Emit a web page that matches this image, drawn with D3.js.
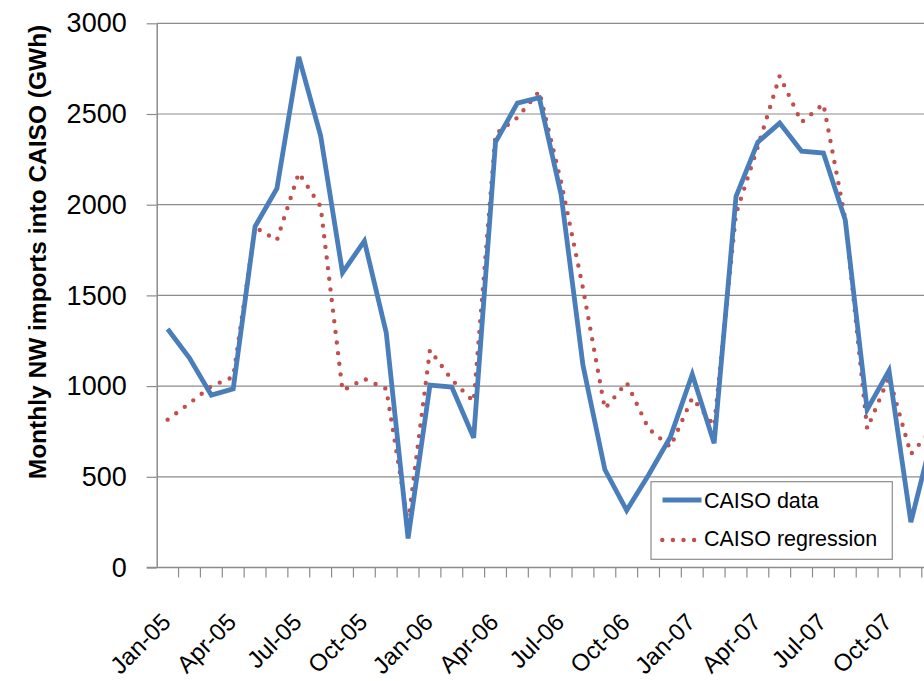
<!DOCTYPE html>
<html>
<head>
<meta charset="utf-8">
<script src="https://cdn.jsdelivr.net/npm/d3@7"></script>
<style>
  body { margin: 0; background: #fff; }
  text { font-family: "Liberation Sans", Arial, sans-serif; fill: #000; }
</style>
</head>
<body>
<svg id="chart"></svg>
<script>
const months = [
  "Jan-05","Feb-05","Mar-05","Apr-05","May-05","Jun-05","Jul-05","Aug-05","Sep-05","Oct-05","Nov-05","Dec-05",
  "Jan-06","Feb-06","Mar-06","Apr-06","May-06","Jun-06","Jul-06","Aug-06","Sep-06","Oct-06","Nov-06","Dec-06",
  "Jan-07","Feb-07","Mar-07","Apr-07","May-07","Jun-07","Jul-07","Aug-07","Sep-07","Oct-07","Nov-07","Dec-07"
];
const caisoData = [
  1315, 1155, 950, 985, 1880, 2090, 2815, 2380, 1625, 1800, 1295, 160,
  1005, 995, 715, 2345, 2560, 2590, 2055, 1115, 540, 315, 510, 720,
  1065, 685, 2045, 2345, 2450, 2295, 2285, 1915, 870, 1085, 250, 730
];
const caisoRegression = [
  815, 905, 1000, 1050, 1875, 1805, 2175, 1990, 975, 1040, 985, 245,
  1200, 1035, 915, 2390, 2480, 2625, 2125, 1540, 875, 1020, 765, 665,
  935, 780, 1950, 2320, 2710, 2455, 2555, 1920, 765, 1050, 625, 765
];
const yTicks = [0, 500, 1000, 1500, 2000, 2500, 3000];
const labelMonths = months.filter((d, i) => i % 3 === 0);

const svgWidth = 924, svgHeight = 681;
const svg = d3.select("#chart")
    .attr("width", svgWidth)
    .attr("height", svgHeight);

// plot area runs past the right edge of the picture (chart was cropped)
const x = d3.scaleBand()
    .domain(months)
    .range([156.7, 156.7 + 36 * 21.86])
    .padding(0);
const y = d3.scaleLinear()
    .domain([0, 3000])
    .range([567.5, 23.3]);
const cx = d => x(d) + x.bandwidth() / 2;

// gridlines
svg.append("g")
  .selectAll("line")
  .data(yTicks.slice(1))
  .enter()
  .append("line")
    .attr("x1", x.range()[0])
    .attr("x2", x.range()[1])
    .attr("y1", d => y(d))
    .attr("y2", d => y(d))
    .attr("stroke", "#8c8c8c")
    .attr("stroke-width", 1.2);

// y axis
const yAxis = svg.append("g")
    .attr("transform", `translate(${x.range()[0]},0)`)
    .call(d3.axisLeft(y).tickValues(yTicks).tickFormat(d3.format("d"))
      .tickSize(10).tickPadding(20).tickSizeOuter(0));
yAxis.select(".domain").attr("stroke", "#8c8c8c").attr("stroke-width", 1.5);
yAxis.selectAll(".tick line").attr("stroke", "#8c8c8c").attr("stroke-width", 1.2);
yAxis.selectAll("text")
    .attr("font-size", 27)
    .attr("font-family", "Liberation Sans, Arial, sans-serif")
    .attr("fill", "#000");

// x axis line + tick marks between categories
svg.append("line")
    .attr("x1", x.range()[0] - 10)
    .attr("x2", x.range()[1])
    .attr("y1", y(0))
    .attr("y2", y(0))
    .attr("stroke", "#8c8c8c")
    .attr("stroke-width", 1.5);
svg.append("g")
  .selectAll("line")
  .data(months.slice(1))
  .enter()
  .append("line")
    .attr("x1", d => x(d))
    .attr("x2", d => x(d))
    .attr("y1", y(0))
    .attr("y2", y(0) + 10)
    .attr("stroke", "#8c8c8c")
    .attr("stroke-width", 1.2);

const xAxis = svg.append("g")
    .attr("transform", `translate(0,${y(0)})`)
    .call(d3.axisBottom(x).tickValues(labelMonths).tickSize(0));
xAxis.select(".domain").remove();
xAxis.selectAll("text")
    .attr("x", 0)
    .attr("y", 0)
    .attr("dy", 0)
    .attr("transform", "translate(4.5,56) rotate(-45)")
    .attr("text-anchor", "end")
    .attr("font-size", 24)
    .attr("font-family", "Liberation Sans, Arial, sans-serif")
    .attr("fill", "#000");

// y axis title
svg.append("text")
    .text("Monthly NW imports into CAISO (GWh)")
    .attr("transform", "translate(46,252) rotate(-90)")
    .attr("text-anchor", "middle")
    .attr("font-size", 24.5)
    .attr("font-weight", "bold");

// series
const seriesLine = d3.line()
    .x((d, i) => cx(months[i]))
    .y(d => y(d));

svg.append("path")
    .datum(caisoRegression)
    .attr("d", seriesLine)
    .attr("fill", "none")
    .attr("stroke", "#c0504d")
    .attr("stroke-width", 4.4)
    .attr("stroke-linecap", "round")
    .attr("stroke-dasharray", "0 10.7");

svg.append("path")
    .datum(caisoData)
    .attr("d", seriesLine)
    .attr("fill", "none")
    .attr("stroke", "#4a7ebb")
    .attr("stroke-width", 4.8)
    .attr("stroke-linejoin", "miter");

// legend
const legend = svg.append("g");
legend.append("rect")
    .attr("x", 651)
    .attr("y", 481.7)
    .attr("width", 241.3)
    .attr("height", 77.6)
    .attr("fill", "#fff")
    .attr("stroke", "#8c8c8c")
    .attr("stroke-width", 1.2);
legend.append("line")
    .attr("x1", 662.5).attr("x2", 701.5)
    .attr("y1", 500).attr("y2", 500)
    .attr("stroke", "#4a7ebb")
    .attr("stroke-width", 4.8);
legend.append("line")
    .attr("x1", 662.3).attr("x2", 696)
    .attr("y1", 540).attr("y2", 540)
    .attr("stroke", "#c0504d")
    .attr("stroke-width", 4.4)
    .attr("stroke-linecap", "round")
    .attr("stroke-dasharray", "0 10.6");
legend.append("text")
    .text("CAISO data")
    .attr("x", 704)
    .attr("y", 508)
    .attr("font-size", 21.5);
legend.append("text")
    .text("CAISO regression")
    .attr("x", 704)
    .attr("y", 546)
    .attr("font-size", 21.5);
</script>
</body>
</html>
